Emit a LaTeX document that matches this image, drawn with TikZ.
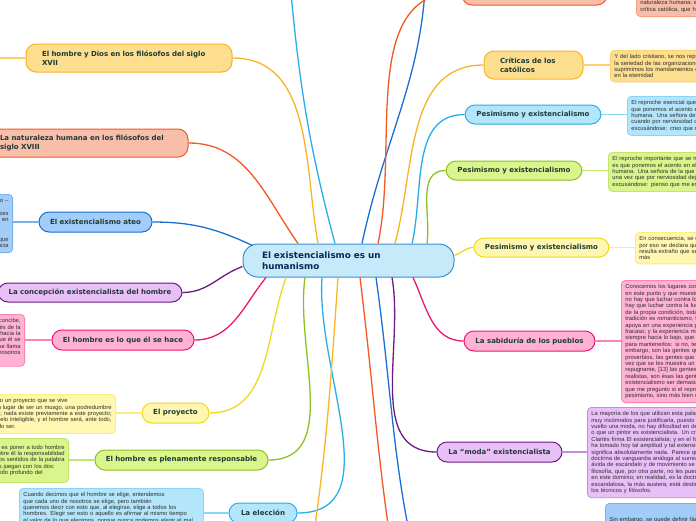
\documentclass[tikz,border=0pt]{standalone}
\usepackage{fontspec}
\setmainfont{Liberation Sans}
\newfontfamily\topicfont{DejaVu Sans}

\definecolor{orgB}{HTML}{F8B425}\definecolor{orgF}{HTML}{FDDD8E}
\definecolor{redB}{HTML}{F15A24}\definecolor{redF}{HTML}{F9BEAA}
\definecolor{bluB}{HTML}{1A6FD3}\definecolor{bluF}{HTML}{A2CDF8}
\definecolor{purB}{HTML}{6B1C7D}\definecolor{purF}{HTML}{E9BFF8}
\definecolor{pnkB}{HTML}{EF1572}\definecolor{pnkF}{HTML}{FFB2D3}
\definecolor{yelB}{HTML}{EFD91E}\definecolor{yelF}{HTML}{FFF6AF}
\definecolor{grnB}{HTML}{8DC21F}\definecolor{grnF}{HTML}{D9F58B}
\definecolor{cyaB}{HTML}{2AAEEA}\definecolor{cyaF}{HTML}{B3E5FB}
\definecolor{midB}{HTML}{3A8ED6}\definecolor{midF}{HTML}{C6EAFA}
\definecolor{topicText}{HTML}{1D3B35}
\definecolor{midText}{HTML}{0E2452}
\definecolor{noteText}{HTML}{2E2E2E}

% right-aligned line inside a note
\newcommand\rl[1]{\makebox[\hsize][r]{#1}}

\begin{document}
\begin{tikzpicture}[
  x=1pt,y=-1pt,
  topic/.style={draw=#1B,fill=#1F,rounded corners=10pt,line width=1pt,
                text=topicText,font=\topicfont\bfseries\fontsize{7}{9}\selectfont,
                inner sep=0pt,minimum height=20pt},
  twoline/.style={align=left,text width=#1,inner xsep=16pt,minimum height=28pt},
  note/.style={draw=#1B!30!#1F,fill=#1F,rounded corners=4pt,line width=.8pt,
               text=noteText,font=\fontsize{5.8}{6.4}\selectfont,
               inner xsep=4pt,inner ysep=4pt,text width=150pt,align=left},
  branch/.style={draw=#1B,line width=1.3pt},
  twig/.style={draw=#1B!30!#1F,line width=1.4pt}
]
\useasboundingbox (0,0) rectangle (696,520);
\clip (0,0) rectangle (696,520);
\fill[white] (0,0) rectangle (696,520);

% central topic
\node[draw=midB,fill=midF,rounded corners=15pt,line width=1pt,text=midText,
      font=\topicfont\bfseries\fontsize{8.8}{11}\selectfont,
      text width=173pt,align=left,inner xsep=19pt,inner ysep=0pt,minimum height=33pt]
  (hum) at (348.5,260.5) {El existencialismo es un\\humanismo};

% left side
\node[topic=org,twoline=174pt] (dios) at (129,58)
  {El hombre y Dios en los filósofos del siglo\\XVII};
\node[topic=red,twoline=172pt] (natu) at (86,143)
  {La naturaleza humana en los filósofos del\\siglo XVIII};
\node[topic=blu,minimum width=113pt] (ateo) at (95.5,222) {El existencialismo ateo};
\node[topic=pur,minimum width=184pt,minimum height=19pt] (conc) at (90,292.5)
  {La concepción existencialista del hombre};
\node[topic=pnk,minimum width=142pt] (hace) at (123,340) {El hombre es lo que él se hace};
\node[topic=yel,minimum width=67pt] (proy) at (175.5,413) {El proyecto};
\node[topic=grn,minimum width=173pt] (resp) at (181.5,460) {El hombre es plenamente responsable};
\node[topic=cya,minimum width=68pt] (elec) at (263,513) {La elección};

% right side
\node[topic=red,minimum width=145pt,minimum height=28pt] (topr) at (534.5,-9) {};
\node[topic=org,twoline=67pt] (crit) at (533.5,65) {Críticas de los\\católicos};
\node[topic=cya,minimum width=136pt,minimum height=19pt] (pesa) at (533,114.5)
  {Pesimismo y existencialismo};
\node[topic=grn,minimum width=136pt,minimum height=19pt] (pesb) at (514,170.5)
  {Pesimismo y existencialismo};
\node[topic=yel,minimum width=135pt,minimum height=19pt] (pesc) at (541.5,247.5)
  {Pesimismo y existencialismo};
\node[topic=pnk,minimum width=131pt] (sabi) at (529.5,341) {La sabiduría de los pueblos};
\node[topic=pur,minimum width=125pt] (moda) at (499.5,452) {La “moda” existencialista};

% notes, left
\node[note=blu,anchor=north east,minimum height=57pt] (ateo-n) at (13,194) {%
  \rl{El existencialismo ateo que yo represento –}\\
  \rl{es más coherente. Declara que si Dios no existe,\hspace*{16pt}}\\
  \rl{hay por lo menos un ser en el que muchas veces}\\
  \rl{la existencia precede a la esencia, un ser en}\\
  \rl{que existe antes de poder ser definido por\hspace*{16pt}}\\
  \rl{ningún concepto, y que este ser es el hombre\hspace*{16pt}}\\
  \rl{o, como dice Heidegger, la realidad humana. Qué significa aquí que}\\
  \rl{la existencia precede a la esencia}};
\node[note=pnk,anchor=north east,minimum height=51pt] (hace-n) at (25,314) {%
  \rl{El hombre es el único que no sólo es tal como él se concibe,}\\
  \rl{sino tal como él se quiere, y como se concibe después de la}\\
  \rl{existencia, como se quiere después de este impulso hacia la}\\
  \rl{existencia; el hombre no es otra cosa que lo que él se}\\
  \rl{hace. Éste es el primer principio del existencialismo. Es también lo que se llama}\\
  \rl{la subjetividad, que se nos echa en cara a nosotros}\\
  \rl{bajo ese nombre mismo.\hspace*{24pt}}};
\node[note=yel,anchor=north east,minimum height=38pt] (proy-n) at (116,394) {%
  \rl{El hombre es ante todo un proyecto que se vive\hspace*{44pt}}\\
  \rl{subjetivamente, en lugar de ser un musgo, una podredumbre}\\
  \rl{o una coliflor; nada existe previamente a este proyecto;}\\
  \rl{nada hay en el cielo inteligible, y el hombre será, ante todo,}\\
  \rl{lo que habrá proyectado ser.\hspace*{96pt}}};
\node[note=grn,anchor=north east,minimum height=44pt] (resp-n) at (69,438) {%
  \rl{Así, el primer paso del existencialismo es poner a todo hombre}\\
  \rl{en posesión de lo que es, y asentar sobre él la responsabilidad}\\
  \rl{total de su existencia. Hay dos sentidos de la palabra}\\
  \rl{subjetivismo, y nuestros adversarios juegan con los dos:\hspace*{10pt}}\\
  \rl{y éste es el sentido profundo del\hspace*{22pt}}};
\node[note=cya,anchor=north west,text width=176pt] (elec-n) at (19,488) {%
  \makebox[164pt][s]{Cuando decimos que el hombre se elige, entendemos}\\
  \makebox[150pt][s]{que cada uno de nosotros se elige, pero también}\\
  \makebox[\hsize][s]{queremos decir con esto que, al elegirse, elige a todos los}\\
  \makebox[\hsize][s]{hombres. Elegir ser esto o aquello es afirmar al mismo tiempo}\\
  el valor de lo que elegimos, porque nunca podemos elegir el mal};

% notes, right
\node[note=red,anchor=south west] (topr-n) at (636,17) {%
  hombre es esencial, de ignorar la\\
  naturaleza humana; es la\\
  crítica católica, que hace};
\node[note=org,anchor=north west,minimum height=30pt] (crit-n) at (610,50) {%
  Y del lado cristiano, se nos reprocha que negamos\\
  la seriedad de las organizaciones humanas, puesto que\\
  suprimimos los mandamientos de Dios y los valores\\
  en la eternidad};
\node[note=cya,anchor=north west,minimum height=37pt] (pesa-n) at (627,96) {%
  El reproche esencial que se nos hace\\
  que ponemos el acento en el lado malo\\
  humana. Una señora de la que me han\\
  cuando por nerviosidad deja escapar\\
  excusándose: creo que me estoy volviendo};
\node[note=grn,anchor=north west,minimum height=38pt] (pesb-n) at (608,152) {%
  El reproche importante que se nos hace\\
  es que ponemos el acento en el lado malo\\
  humana. Una señora de la que me han\\
  una vez que por nerviosidad deja escapar\\
  excusándose: pienso que me estoy volviendo};
\node[note=yel,anchor=north west,minimum height=31pt] (pesc-n) at (635,232) {%
  En consecuencia, se comprende\\
  por eso se declara que\\
  resulta extraño que se\\
  más};
\node[note=pnk,anchor=north west,minimum height=122pt] (sabi-n) at (621,280) {%
  Conocemos los lugares comunes que se\\
  en este punto y que muestran siempre\\
  no hay que luchar contra los poderes\\
  hay que luchar contra la fuerza, no hay\\
  de la propia condición, toda acción que\\
  tradición es romanticismo, toda tentativa\\
  apoya en una experiencia probada está\\
  fracaso; y la experiencia muestra que\\
  siempre hacia lo bajo, que se necesitan\\
  para mantenerlos: si no, tenemos la\\
  embargo, son las gentes que repiten\\
  proverbios, las gentes que dicen: qué\\
  vez que se les muestra un acto más o\\
  repugnante, [13] las gentes que se\\
  realistas, son ésas las gentes que\\
  existencialismo ser demasiado sombrío\\
  que me pregunto si el reproche que\\
  pesimismo, sino más bien el de optimismo.};
\node[note=pur,anchor=north west,minimum height=90pt] (moda-n) at (587,407) {%
  La mayoría de los que utilizan esta palabra\\
  muy incómodos para justificarla, puesto que\\
  vuelto una moda, no hay dificultad en declarar\\
  o que un pintor es existencialista. Un cronista\\
  Clartés firma El existencialista; y en el fondo,\\
  ha tomado hoy tal amplitud y tal extensión\\
  significa absolutamente nada. Parece que\\
  doctrina de vanguardia análoga al surrealismo\\
  ávida de escándalo y de movimiento se dirigen\\
  filosofía, que, por otra parte, no les puede\\
  en este dominio; en realidad, es la doctrina\\
  escandalosa, la más austera; está destinada\\
  los técnicos y filósofos.};
\node[note=blu,anchor=north west,minimum height=40pt] (sin-n) at (605,503) {%
  Sin embargo, se puede definir fácilmente.\\
  complica las cosas es que hay dos especies};

% free ends of branches that leave the picture
\coordinate (dios-n) at (-40,58);
\coordinate (upa) at (288,-40);
\coordinate (upb) at (426,-40);
\coordinate (dna) at (303,600);
\coordinate (dnb) at (400,600);
\coordinate (dnc) at (425,600);

% branches from the centre
\draw[branch=red] ([xshift=-50.5pt]hum.north) to[out=125,in=0] (natu.east);
\draw[branch=org] ([xshift=-30.5pt]hum.north) to[out=100,in=0] (dios.east);
\draw[branch=cya] ([xshift=-13.5pt]hum.north) to[out=105,in=275] (upa);
\draw[branch=blu] ([xshift=13.5pt]hum.north) to[out=78,in=270] (upb);
\draw[branch=red] ([xshift=29.5pt]hum.north) to[out=78,in=180] (topr.west);
\draw[branch=org] ([xshift=46.5pt]hum.north) to[out=75,in=180] (crit.west);
\draw[branch=cya] ([xshift=63.5pt]hum.north) to[out=77,in=180] (pesa.west);
\draw[branch=grn] ([xshift=78.5pt]hum.north) to[out=82,in=180] (pesb.west);
\draw[branch=yel] ([yshift=5pt]hum.east) to[out=20,in=180] (pesc.west);
\draw[branch=blu] ([xshift=10pt,yshift=-2pt]hum.north west) to[out=155,in=0] (ateo.east);
\draw[branch=pur] ([yshift=-6pt]hum.west) to[out=200,in=0] (conc.east);
\draw[branch=pnk] ([xshift=-82.5pt]hum.south) to[out=231,in=0] (hace.east);
\draw[branch=yel] ([xshift=-62.5pt]hum.south) to[out=250,in=0] (proy.east);
\draw[branch=grn] ([xshift=-43.5pt]hum.south) to[out=262,in=0] (resp.east);
\draw[branch=cya] ([xshift=-26.5pt]hum.south) to[out=266,in=0] (elec.east);
\draw[branch=org] ([xshift=-10.5pt]hum.south) to[out=266,in=80] (dna);
\draw[branch=red] ([xshift=11.5pt]hum.south) to[out=277,in=100] (dnb);
\draw[branch=blu] ([xshift=27.5pt]hum.south) to[out=278,in=105] (dnc);
\draw[branch=pur] ([xshift=43.5pt]hum.south) to[out=280,in=180] (moda.west);
\draw[branch=pnk] ([xshift=64.5pt]hum.south) to[out=295,in=180] (sabi.west);

% topic to note
\draw[twig=org] (dios.west) -- (dios-n);
\draw[twig=blu] (ateo.west) -- (ateo.west -| ateo-n.east);
\draw[twig=pnk] (hace.west) -- (hace.west -| hace-n.east);
\draw[twig=yel] (proy.west) -- (proy.west -| proy-n.east);
\draw[twig=grn] (resp.west) -- (resp.west -| resp-n.east);
\draw[twig=cya] (elec.west) -- (elec.west -| elec-n.east);
\draw[twig=red] (topr.east) -- (topr.east -| topr-n.west);
\draw[twig=org] (crit.east) -- (crit.east -| crit-n.west);
\draw[twig=cya] (pesa.east) -- (pesa.east -| pesa-n.west);
\draw[twig=grn] (pesb.east) -- (pesb.east -| pesb-n.west);
\draw[twig=yel] (pesc.east) -- (pesc.east -| pesc-n.west);
\draw[twig=pnk] (sabi.east) -- (sabi.east -| sabi-n.west);
\draw[twig=pur] (moda.east) -- (moda.east -| moda-n.west);
\end{tikzpicture}
\end{document}
